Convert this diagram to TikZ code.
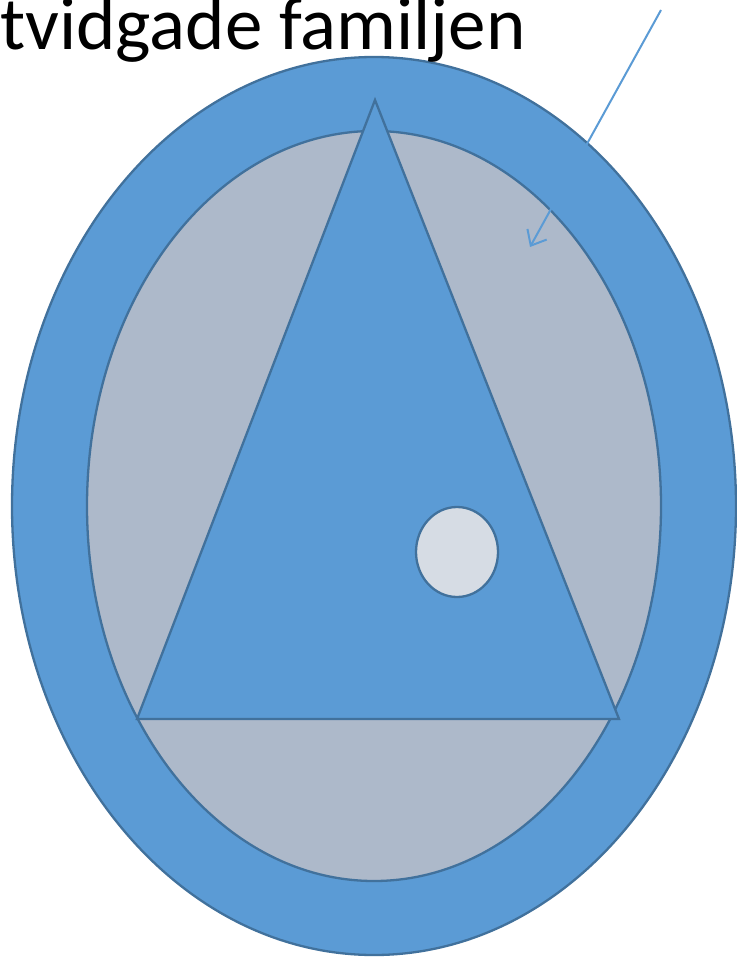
\documentclass[tikz,border=0pt]{standalone}
\usepackage{fontspec}
\setmainfont{Carlito}
\usetikzlibrary{arrows.meta}
\definecolor{ringblue}{HTML}{5B9BD5}
\definecolor{edgeblue}{HTML}{41719C}
\definecolor{innergray}{HTML}{ADB9CA}
\definecolor{dotgray}{HTML}{D6DCE4}
\tikzset{
  shapeedge/.style={draw=edgeblue, line width=2.3pt},
  pointer/.style={draw=ringblue, line width=2pt, -{Straight Barb[length=13pt, width=22pt, line width=2pt]}},
}
\begin{document}
\begin{tikzpicture}[x=1pt, y=-1pt]
\useasboundingbox (0,0) rectangle (736,957);
\fill[white] (0,0) rectangle (736,957);
\path[shapeedge, fill=ringblue] (374,506) ellipse [x radius=362, y radius=449];
\path[shapeedge, fill=innergray] (374,506) ellipse [x radius=287, y radius=375];
\path[shapeedge, fill=ringblue, line join=miter] (375,100) -- (619,719) -- (137,719) -- cycle;
\path[shapeedge, fill=dotgray] (457,552) ellipse [x radius=41, y radius=45];
\node[anchor=base west, inner sep=0pt, font=\fontsize{75}{80}\selectfont] (title) at (0,50) {tvidgade familjen};
\coordinate (start) at (661,10);
\coordinate (tip) at (530,247);
\draw[pointer] (start) -- (tip);
\end{tikzpicture}
\end{document}
